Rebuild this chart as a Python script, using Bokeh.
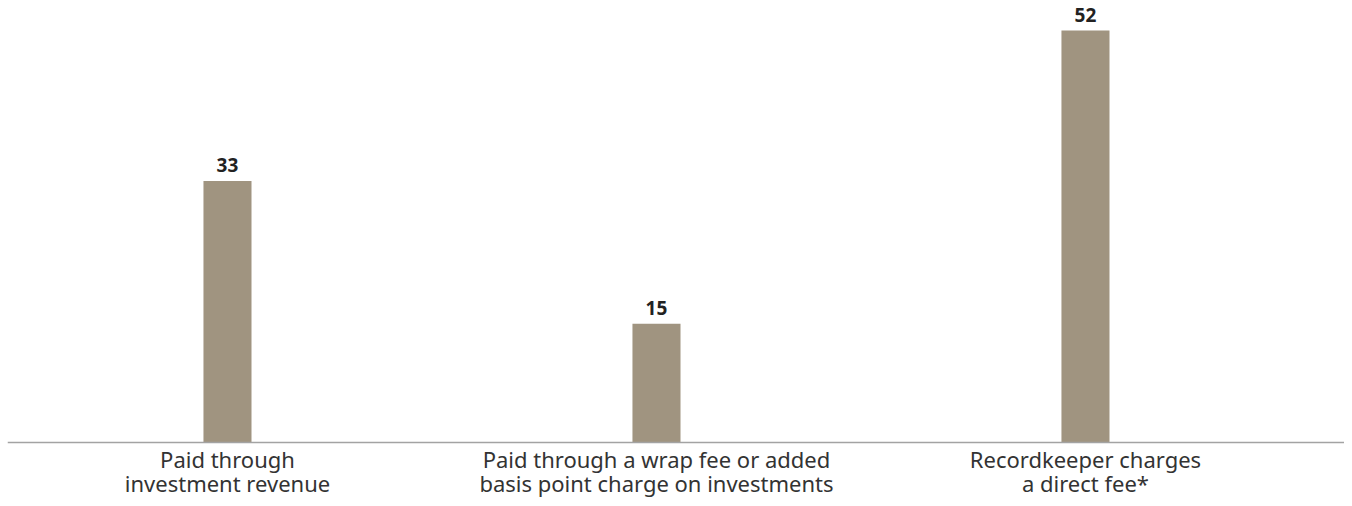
from bokeh.plotting import figure
from bokeh.models import ColumnDataSource, Range1d, Span
from bokeh.core.properties import value
from bokeh.embed import file_html
from bokeh.resources import INLINE

categories = [
    "Paid through\ninvestment revenue",
    "Paid through a wrap fee or added\nbasis point charge on investments",
    "Recordkeeper charges\na direct fee*",
]
values = [33, 15, 52]
value_labels = [str(v) for v in values]

xs = list(range(len(categories)))
src = ColumnDataSource(dict(x=xs, top=values, label=value_labels,
                            cat=categories, base=[0] * len(categories)))

p = figure(width=1344, height=498, output_backend="svg", toolbar_location=None,
           x_range=Range1d(-0.5128, 2.6038), y_range=Range1d(-7.068, 55.79),
           min_border_left=7, min_border_right=0, min_border_top=0, min_border_bottom=0)

p.vbar(x="x", top="top", width=0.112, bottom=0, source=src,
       fill_color="#a09480", line_color=None)

p.text(x="x", y="top", text="label", source=src, text_align="center",
       text_baseline="bottom", y_offset=-9, text_font=value("Noto Sans"),
       text_font_style="bold", text_font_size="19px", text_color="#222222")

# category labels under the baseline
p.text(x="x", y="base", text="cat", source=src, text_align="center",
       text_baseline="top", y_offset=1, text_font=value("Noto Sans"),
       text_font_size="22px", text_color="#333333", text_line_height=0.8)

p.add_layout(Span(location=0, dimension="width", line_color="#a3a3a3", line_width=1.5))

p.xaxis.visible = False
p.yaxis.visible = False
p.xgrid.visible = False
p.ygrid.visible = False
p.outline_line_color = None

open("out.html", "w").write(file_html(p, INLINE))
